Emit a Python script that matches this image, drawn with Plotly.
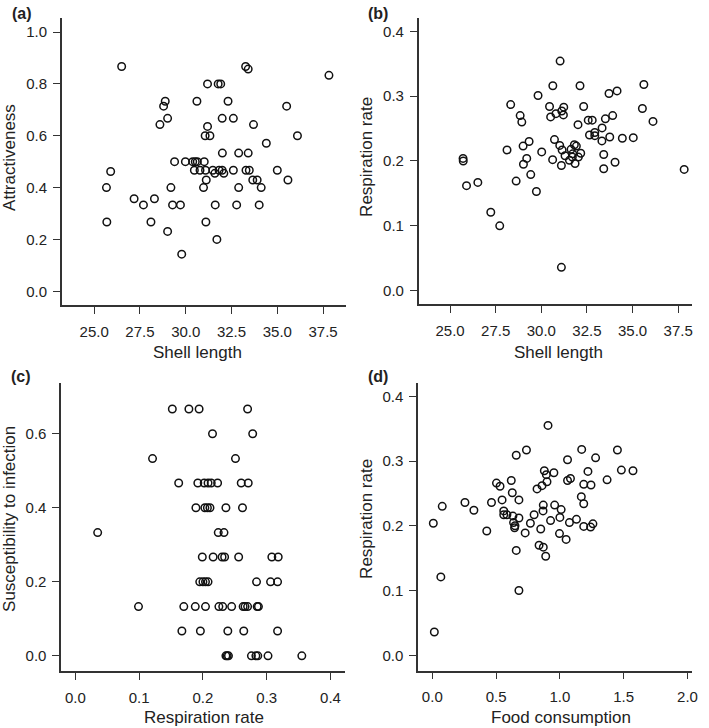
import plotly.graph_objects as go

W, H = 709, 728

# ---------------- data ----------------
# (a) Shell length vs Attractiveness
a_shell = [26.50, 33.27, 33.41, 37.82, 31.19, 31.77, 31.91, 28.88, 30.61, 32.31,
           28.79, 35.51, 28.59, 29.01, 31.99, 32.60, 33.70, 31.19, 31.06, 31.32,
           36.10, 34.40, 32.00, 32.89, 33.41, 25.90,
           29.39, 29.98, 30.38, 30.52, 30.63, 31.01,
           30.47, 30.78, 31.08, 31.48, 31.82, 31.99, 32.60, 33.29, 33.47, 35.00,
           31.59, 32.08,
           31.12, 33.66, 33.90, 35.58,
           25.67, 29.19, 30.97, 32.89, 34.12,
           27.18, 28.29,
           27.69, 29.28, 29.71, 31.61, 32.78, 34.01,
           25.69, 28.10, 31.10,
           29.01, 31.70, 29.78]
a_attr = [0.867, 0.867, 0.857, 0.833, 0.800, 0.800, 0.800, 0.733, 0.733, 0.733,
          0.714, 0.714, 0.643, 0.667, 0.667, 0.667, 0.643, 0.636, 0.600, 0.600,
          0.600, 0.571, 0.533, 0.533, 0.533, 0.462,
          0.500, 0.500, 0.500, 0.500, 0.500, 0.500,
          0.467, 0.467, 0.467, 0.467, 0.467, 0.467, 0.467, 0.467, 0.467, 0.467,
          0.455, 0.455,
          0.429, 0.429, 0.429, 0.429,
          0.400, 0.400, 0.400, 0.400, 0.400,
          0.357, 0.357,
          0.333, 0.333, 0.333, 0.333, 0.333, 0.333,
          0.267, 0.267, 0.267,
          0.231, 0.200, 0.143]

# (b) Shell length vs Respiration rate
b_shell = [31.03, 30.63, 32.12, 35.62, 33.71, 34.15, 29.82, 28.32, 30.45, 31.23,
           32.32, 28.84, 28.93, 30.51, 30.80, 31.12, 31.21, 35.54, 36.12, 32.01,
           32.57, 32.79, 33.51, 33.91, 33.33, 32.64, 32.93, 32.93, 33.32, 33.75,
           34.44, 35.04, 33.42, 34.04, 33.42, 37.83, 28.12, 29.00, 29.33, 29.20,
           29.02, 30.02, 30.72, 30.62, 31.10, 29.42, 28.62, 29.73, 25.71, 25.72,
           25.90, 26.52, 27.23, 27.72, 31.10,
           31.01, 31.14, 31.30, 31.54, 31.63, 31.72, 31.81, 31.92, 31.85, 32.03,
           32.16, 31.70]
b_resp = [0.354, 0.316, 0.316, 0.318, 0.304, 0.308, 0.301, 0.287, 0.284, 0.283,
          0.284, 0.270, 0.260, 0.268, 0.273, 0.277, 0.271, 0.281, 0.261, 0.256,
          0.263, 0.263, 0.265, 0.270, 0.251, 0.240, 0.244, 0.239, 0.231, 0.237,
          0.235, 0.236, 0.210, 0.198, 0.188, 0.187, 0.217, 0.223, 0.230, 0.204,
          0.195, 0.214, 0.233, 0.202, 0.193, 0.179, 0.169, 0.153, 0.204, 0.200,
          0.162, 0.167, 0.121, 0.100, 0.036,
          0.224, 0.217, 0.208, 0.201, 0.218, 0.211, 0.225, 0.223, 0.196, 0.206,
          0.212, 0.206]

# (c) Respiration rate vs Susceptibility to infection
c_resp = [0.152, 0.178, 0.194, 0.270,
          0.215, 0.278,
          0.121, 0.251,
          0.162, 0.192, 0.202, 0.208, 0.213, 0.223, 0.260, 0.271,
          0.189, 0.203, 0.207, 0.211, 0.236, 0.262,
          0.035, 0.224, 0.233,
          0.199, 0.216, 0.230, 0.234, 0.256, 0.308, 0.318,
          0.195, 0.200, 0.204, 0.208, 0.284, 0.306, 0.317,
          0.099, 0.170, 0.188, 0.204, 0.225, 0.231, 0.245, 0.263, 0.266, 0.270, 0.285, 0.287,
          0.167, 0.196, 0.239, 0.264, 0.317,
          0.236, 0.238, 0.240, 0.276, 0.283, 0.286, 0.302, 0.355]
c_susc = [0.667] * 4 + [0.600] * 2 + [0.533] * 2 + [0.467] * 8 + [0.400] * 6 + \
         [0.333] * 3 + [0.267] * 7 + [0.200] * 7 + [0.133] * 12 + [0.067] * 5 + [0.0] * 8

# (d) Food consumption vs Respiration rate
d_food = [0.907, 0.738, 0.658, 1.171, 1.451, 1.280, 1.060, 0.878, 0.953, 0.894,
          1.482, 1.573, 1.220, 1.370, 1.060, 1.083, 0.899, 0.619, 0.503, 0.531,
          0.821, 0.860, 1.187, 1.244, 0.627, 1.168, 0.547, 0.679, 0.464, 0.256,
          0.078, 1.187, 0.870, 0.959, 1.010, 0.326, 0.560, 0.560, 0.585, 0.868,
          0.798, 0.632, 0.679, 1.000, 1.130, 1.075, 0.927, 0.637, 0.648, 0.645,
          0.769, 0.008, 1.259, 1.241, 1.187, 0.850, 0.728, 0.427, 0.997, 1.049,
          0.837, 0.870, 0.889, 0.658, 0.067, 0.679, 0.016]
d_resp = [0.355, 0.317, 0.309, 0.318, 0.317, 0.305, 0.302, 0.285, 0.282, 0.279,
          0.286, 0.285, 0.284, 0.271, 0.270, 0.273, 0.268, 0.270, 0.266, 0.261,
          0.257, 0.262, 0.264, 0.263, 0.251, 0.245, 0.240, 0.240, 0.236, 0.236,
          0.230, 0.234, 0.232, 0.232, 0.225, 0.224, 0.223, 0.217, 0.217, 0.223,
          0.217, 0.215, 0.212, 0.213, 0.210, 0.205, 0.208, 0.205, 0.200, 0.197,
          0.204, 0.204, 0.203, 0.198, 0.199, 0.195, 0.189, 0.192, 0.188, 0.179,
          0.170, 0.167, 0.153, 0.162, 0.121, 0.100, 0.036]

x_ticks_shell = [25.0, 27.5, 30.0, 32.5, 35.0, 37.5]
y_ticks_attr = [0.0, 0.2, 0.4, 0.6, 0.8, 1.0]
y_ticks_resp = [0.0, 0.1, 0.2, 0.3, 0.4]
x_ticks_resp = [0.0, 0.1, 0.2, 0.3, 0.4]
y_ticks_susc = [0.0, 0.2, 0.4, 0.6]
x_ticks_food = [0.0, 0.5, 1.0, 1.5, 2.0]

# ---------------- layout geometry (pixels) ----------------
FONT = "Liberation Sans, Arial, Helvetica, sans-serif"
TXT = "#222222"
LINE = "#333333"

panels = [
    dict(l=62.3, r=349.3, t=18.3, b=305.0, xr=[23.23, 38.77], yr=[-0.053, 1.053],
         xt=x_ticks_shell, yt=y_ticks_attr),
    dict(l=422.3, r=698.3, t=18.3, b=304.0, xr=[23.28, 38.28], yr=[-0.0205, 0.42],
         xt=x_ticks_shell, yt=y_ticks_resp),
    dict(l=61.7, r=347.7, t=382.7, b=671.0, xr=[-0.0222, 0.4223], yr=[-0.041, 0.738],
         xt=x_ticks_resp, yt=y_ticks_susc),
    dict(l=421.7, r=697.7, t=382.7, b=670.7, xr=[-0.111, 2.034], yr=[-0.0238, 0.421],
         xt=x_ticks_food, yt=y_ticks_resp),
]
series = [(a_shell, a_attr), (b_shell, b_resp), (c_resp, c_susc), (d_food, d_resp)]

fig = go.Figure()
layout = dict(width=W, height=H, margin=dict(l=0, r=0, t=0, b=0),
              paper_bgcolor="white", plot_bgcolor="white", showlegend=False,
              font=dict(family=FONT, color=TXT, size=15))

for i, (p, (xs, ys)) in enumerate(zip(panels, series)):
    n = "" if i == 0 else str(i + 1)
    fig.add_trace(go.Scatter(
        x=xs, y=ys, mode="markers", xaxis="x" + n, yaxis="y" + n,
        marker=dict(symbol="circle-open", size=7.5, color="#111111",
                    line=dict(width=1.5, color="#111111")),
        hoverinfo="x+y"))
    common = dict(showline=True, linecolor=LINE, linewidth=1.5, ticks="outside",
                  ticklen=7, tickwidth=1.4, tickcolor=LINE, showgrid=False,
                  zeroline=False, tickformat=".1f", mirror=False,
                  tickfont=dict(family=FONT, size=15, color=TXT))
    layout["xaxis" + n] = dict(common, domain=[p["l"] / W, p["r"] / W], range=p["xr"],
                               tickvals=p["xt"], anchor="y" + n, ticklabelstandoff=5)
    layout["yaxis" + n] = dict(common, domain=[1 - p["b"] / H, 1 - p["t"] / H], range=p["yr"],
                               tickvals=p["yt"], anchor="x" + n, ticklabelstandoff=3)

def ann(text, x, y, size=17, angle=0, bold=False):
    return dict(text=("<b>%s</b>" % text) if bold else text, x=x / W, y=1 - y / H,
                xref="paper", yref="paper", showarrow=False, textangle=angle,
                xanchor="center", yanchor="middle",
                font=dict(family=FONT, size=size, color=TXT))

layout["annotations"] = [
    ann("(a)", 22, 13, 16, bold=True),
    ann("(b)", 381, 13, 16, bold=True),
    ann("(c)", 21, 376, 16, bold=True),
    ann("(d)", 381, 376, 16, bold=True),
    ann("Attractiveness", 9, 157, angle=-90),
    ann("Respiration rate", 369, 157, angle=-90),
    ann("Susceptibility to infection", 9, 519, angle=-90),
    ann("Respiration rate", 369, 519, angle=-90),
    ann("Shell length", 199, 352),
    ann("Shell length", 563, 352),
    ann("Respiration rate", 206, 717),
    ann("Food consumption", 566, 717),
]

fig.update_layout(**layout)
fig.write_html("out.html", config={"displayModeBar": False},
               post_script="document.body.style.margin='0px';")
